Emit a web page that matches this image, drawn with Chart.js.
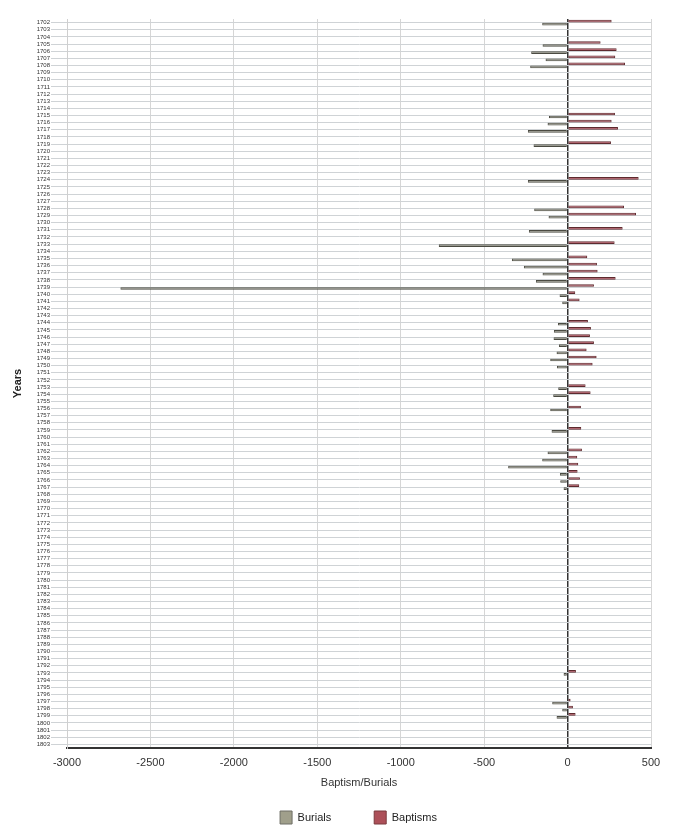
<!DOCTYPE html>
<html><head><meta charset="utf-8">
<script src="https://cdn.jsdelivr.net/npm/chart.js@4.4.1/dist/chart.umd.min.js"></script>
<style>html,body{margin:0;padding:0;background:#fff;} #wrap{width:675px;height:834px;}</style>
</head><body><div id="wrap"><canvas id="c" width="675" height="834"></canvas></div>
<script>
const years = [
 '1702','1703','1704','1705','1706','1707','1708','1709','1710','1711',
 '1712','1713','1714','1715','1716','1717','1718','1719','1720','1721',
 '1722','1723','1724','1725','1726','1727','1728','1729','1730','1731',
 '1732','1733','1734','1735','1736','1737','1738','1739','1740','1741',
 '1742','1743','1744','1745','1746','1747','1748','1749','1750','1751',
 '1752','1753','1754','1755','1756','1757','1758','1759','1760','1761',
 '1762','1763','1764','1765','1766','1767','1768','1769','1770','1771',
 '1772','1773','1774','1775','1776','1777','1778','1779','1780','1781',
 '1782','1783','1784','1785','1786','1787','1788','1789','1790','1791',
 '1792','1793','1794','1795','1796','1797','1798','1799','1800','1801',
 '1802','1803'
];
const burials = [
 -152, null, null, -150, -218, -132, -224, null, null, null,
 null, null, null, -112, -120, -238, null, -204, null, null,
 null, null, -238, null, null, null, -200, -114, null, -232,
 null, -772, null, -334, -262, -150, -190, -2680, -48, -32,
 null, null, -58, -82, -84, -52, -66, -104, -64, null,
 null, -56, -86, null, -104, null, null, -96, null, null,
 -120, -152, -356, -46, -44, -24, null, null, null, null,
 null, null, null, null, null, null, null, null, null, null,
 null, null, null, null, null, null, null, null, null, null,
 null, -24, null, null, null, -92, -32, -66, null, null,
 null, null
];
const baptisms = [
 264, null, null, 198, 294, 286, 344, null, null, null,
 null, null, null, 284, 264, 302, null, 260, null, null,
 null, null, 426, null, null, null, 338, 410, null, 330,
 null, 282, null, 118, 176, 180, 288, 158, 46, 72,
 null, null, 122, 140, 134, 158, 114, 174, 150, null,
 null, 108, 138, null, 80, null, null, 82, null, null,
 86, 58, 64, 60, 74, 70, null, null, null, null,
 null, null, null, null, null, null, null, null, null, null,
 null, null, null, null, null, null, null, null, null, null,
 null, 50, null, null, null, 18, 32, 48, null, null,
 null, null
];
const xTicks = [-3000, -2500, -2000, -1500, -1000, -500, 0, 500];

Chart.defaults.font.family = "'Liberation Sans', Arial, sans-serif";

const legendFill = {'Burials': ['#a09f8b', '#6f6f66'], 'Baptisms': ['#ad5059', '#7a3a3e']};

const legendShift = {
  id: 'legendShift',
  afterLayout(chart) {
    const lg = chart.legend;
    if (lg) { lg.left = 66; lg.right = 651; }
  }
};

new Chart(document.getElementById('c'), {
  type: 'bar',
  plugins: [legendShift],
  data: {
    labels: years,
    datasets: [
      {label: 'Baptisms', data: baptisms, backgroundColor: '#a24552', borderColor: '#5e2a2e',
       borderWidth: 1, borderSkipped: false, categoryPercentage: 0.84, barPercentage: 0.9},
      {label: 'Burials', data: burials, backgroundColor: '#86867a', borderColor: '#4b4b42',
       borderWidth: 1, borderSkipped: false, categoryPercentage: 0.84, barPercentage: 0.9}
    ]
  },
  options: {
    indexAxis: 'y',
    responsive: false,
    animation: false,
    devicePixelRatio: 1,
    layout: {padding: {left: 0, right: 24, top: 19, bottom: 0}},
    plugins: {
      tooltip: {enabled: false},
      legend: {
        position: 'bottom',
        labels: {
          boxWidth: 12, boxHeight: 13, padding: 43, color: '#222', font: {size: 11},
          sort: (a, b) => b.datasetIndex - a.datasetIndex,
          generateLabels: (chart) => {
            const items = Chart.defaults.plugins.legend.labels.generateLabels(chart);
            items.forEach(it => {
              const c = legendFill[it.text];
              if (c) { it.fillStyle = c[0]; it.strokeStyle = c[1]; it.lineWidth = 1; }
            });
            return items;
          }
        }
      }
    },
    scales: {
      x: {
        type: 'linear', min: -3000, max: 500,
        afterBuildTicks: s => { s.ticks = xTicks.map(v => ({value: v})); },
        afterFit: s => { s.height = 20; },
        ticks: {padding: 8, color: '#333', font: {size: 11}, callback: v => String(v)},
        grid: {
          drawTicks: false,
          color: c => (c.tick && c.tick.value === 0) ? '#333' : '#d6d6d6',
          lineWidth: c => (c.tick && c.tick.value === 0) ? 1.5 : 1
        },
        border: {color: '#333', width: 2},
        title: {display: true, text: 'Baptism/Burials', color: '#333', font: {size: 11},
                padding: {top: 0, bottom: -21.6}}
      },
      y: {
        type: 'category',
        afterFit: s => { s.width = 67; },
        ticks: {autoSkip: false, padding: 1, color: '#333', font: {size: 6}},
        grid: {offset: false, color: '#cfd3d6', tickColor: '#cfd3d6', tickLength: 16},
        border: {color: '#cfcfcf'},
        title: {display: true, text: 'Years', color: '#222', font: {size: 11, weight: 'bold'},
                padding: {top: 11.4, bottom: 0}}
      }
    }
  }
});
</script>
</body></html>
